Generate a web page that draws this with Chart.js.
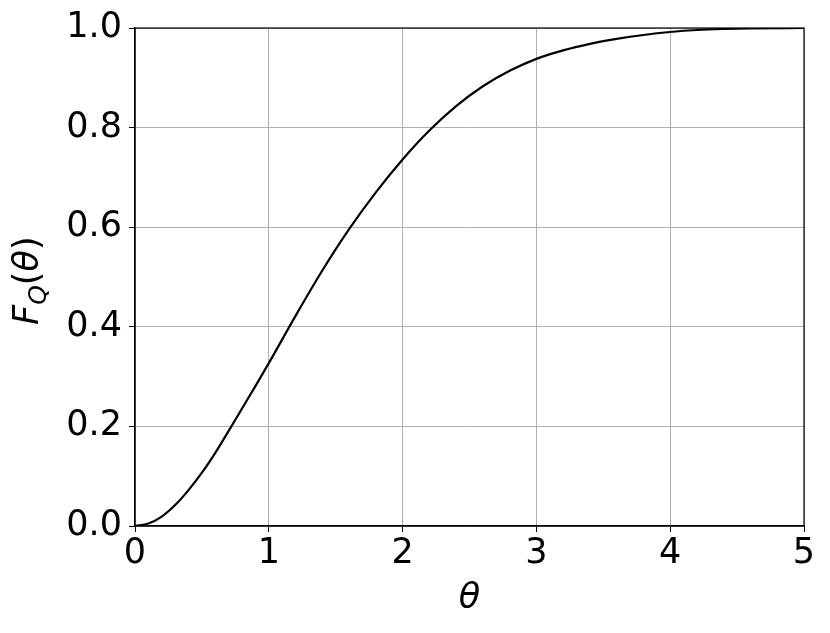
<!DOCTYPE html>
<html>
<head>
<meta charset="utf-8">
<script src="https://cdn.jsdelivr.net/npm/chart.js@4.4.1/dist/chart.umd.min.js"></script>
<style>
  body { margin: 0; background: #fff; }
  canvas { display: block; }
</style>
</head>
<body>
<canvas id="cdfChart" width="830" height="633"></canvas>
<script>
// Values
const thetaValues = [0, 0.1, 0.2, 0.3, 0.4, 0.5, 0.6, 0.7, 0.8, 0.9, 1.0, 1.2, 1.4, 1.6, 1.8, 2.0, 2.2, 2.4, 2.6, 2.8, 3.0, 3.2, 3.4, 3.6, 3.8, 4.0, 4.2, 4.4, 4.6, 5.0];
const cdfValues = [0, 0.005, 0.019, 0.042, 0.072, 0.107, 0.147, 0.191, 0.236, 0.281, 0.327, 0.422, 0.513, 0.596, 0.670, 0.736, 0.794, 0.843, 0.883, 0.914, 0.938, 0.955, 0.968, 0.978, 0.986, 0.992, 0.996, 0.998, 0.999, 1.0];

const xTicks = [0, 1, 2, 3, 4, 5];
const yTicks = [0, 0.2, 0.4, 0.6, 0.8, 1.0];

const FONT = 'DejaVu Sans';
const FONT_SIZE = 35;

// Draws the frame (all four spines) and the axis titles
const framePlugin = {
    id: 'frame',
    afterDatasetsDraw(chart) {
        const { ctx, chartArea } = chart;
        ctx.save();
        ctx.strokeStyle = '#000';
        ctx.lineWidth = 1.2;
        ctx.strokeRect(chartArea.left, chartArea.top,
            chartArea.right - chartArea.left, chartArea.bottom - chartArea.top);

        ctx.fillStyle = '#000';
        // x title
        ctx.font = 'italic ' + FONT_SIZE + 'px "' + FONT + '"';
        ctx.textAlign = 'center';
        ctx.textBaseline = 'alphabetic';
        ctx.fillText('θ', (chartArea.left + chartArea.right) / 2, 608);

        // y title with subscript, written bottom to top
        ctx.translate(38, 325);
        ctx.rotate(-Math.PI / 2);
        const big = 'italic ' + FONT_SIZE + 'px "' + FONT + '"';
        const small = 'italic ' + Math.round(FONT_SIZE * 0.7) + 'px "' + FONT + '"';
        const normal = FONT_SIZE + 'px "' + FONT + '"';
        const parts = [
            { t: 'F', f: big, dy: 0 },
            { t: 'Q', f: small, dy: 8 },
            { t: '(', f: normal, dy: 0 },
            { t: 'θ', f: big, dy: 0 },
            { t: ')', f: normal, dy: 0 }
        ];
        let x = 0;
        ctx.textAlign = 'left';
        parts.forEach(p => {
            ctx.font = p.f;
            ctx.fillText(p.t, x, p.dy);
            x += ctx.measureText(p.t).width;
        });
        ctx.restore();
    }
};

const ctx = document.getElementById('cdfChart').getContext('2d');
new Chart(ctx, {
    type: 'line',
    data: {
        datasets: [{
            data: thetaValues.map((t, i) => ({ x: t, y: cdfValues[i] })),
            borderColor: '#000',
            borderWidth: 2.2,
            pointRadius: 0,
            fill: false,
            cubicInterpolationMode: 'monotone'
        }]
    },
    options: {
        responsive: false,
        animation: false,
        layout: { padding: { left: 0, right: 26, top: 28, bottom: 0 } },
        plugins: {
            legend: { display: false },
            tooltip: { enabled: false }
        },
        scales: {
            x: {
                type: 'linear',
                min: 0,
                max: 5,
                afterBuildTicks: scale => { scale.ticks = xTicks.map(v => ({ value: v })); },
                afterFit: scale => { scale.height = 107; },
                ticks: {
                    color: '#000',
                    font: { family: FONT, size: FONT_SIZE },
                    padding: 1,
                    maxRotation: 0,
                    callback: v => String(v)
                },
                grid: { color: '#b0b0b0', lineWidth: 1, tickColor: '#000', tickLength: 6 },
                border: { color: '#000', width: 1.2 }
            },
            y: {
                min: 0,
                max: 1,
                afterBuildTicks: scale => { scale.ticks = yTicks.map(v => ({ value: v })); },
                afterFit: scale => { scale.width = 135; },
                ticks: {
                    color: '#000',
                    font: { family: FONT, size: FONT_SIZE },
                    padding: 7,
                    callback: v => v.toFixed(1)
                },
                grid: { color: '#b0b0b0', lineWidth: 1, tickColor: '#000', tickLength: 6 },
                border: { color: '#000', width: 1.2 }
            }
        }
    },
    plugins: [framePlugin]
});
</script>
</body>
</html>
